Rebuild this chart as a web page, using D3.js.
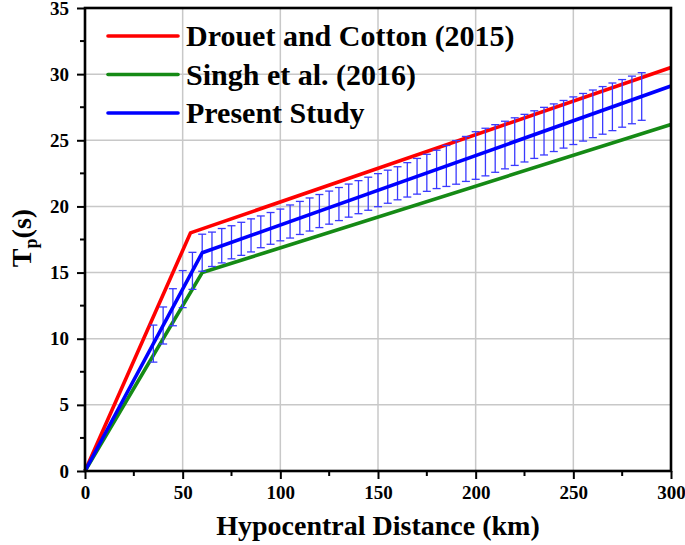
<!DOCTYPE html>
<html>
<head>
<meta charset="utf-8">
<script src="https://cdn.jsdelivr.net/npm/d3@7"></script>
<style>
  body { margin: 0; background: #fff; }
  text { font-family: "Liberation Serif", "Times New Roman", serif; font-weight: bold; }
</style>
</head>
<body>
<div id="vis"></div>
<script>
// reference curves (breakpoints)
const drouetDist = [0, 54, 300];
const drouetTp = [0, 18.0, 30.5];
const singhDist = [0, 60, 300];
const singhTp = [0, 15.0, 26.2];
const presentDist = [0, 60, 300];
const presentTp = [0, 16.5, 29.1];

// present study error bars
const errDist = [35, 40, 45, 50, 55, 60, 65, 70, 75, 80, 85, 90, 95, 100, 105, 110, 115, 120, 125, 130,
  135, 140, 145, 150, 155, 160, 165, 170, 175, 180, 185, 190, 195, 200, 205, 210, 215, 220, 225, 230,
  235, 240, 245, 250, 255, 260, 265, 270, 275, 280, 285];
const errMean = [9.63, 11.0, 12.38, 13.75, 15.13, 16.5, 16.76, 17.03, 17.29, 17.55, 17.81, 18.08, 18.34, 18.6,
  18.86, 19.13, 19.39, 19.65, 19.91, 20.18, 20.44, 20.7, 20.96, 21.23, 21.49, 21.75, 22.01, 22.28, 22.54,
  22.8, 23.06, 23.33, 23.59, 23.85, 24.11, 24.38, 24.64, 24.9, 25.16, 25.43, 25.69, 25.95, 26.21, 26.48,
  26.74, 27.0, 27.26, 27.53, 27.79, 28.05, 28.31];
const errSize = [1.4, 1.4, 1.4, 1.4, 1.4, 1.4, 1.3, 1.3, 1.25, 1.25, 1.25, 1.2, 1.2, 1.2, 1.25, 1.25, 1.25,
  1.25, 1.25, 1.25, 1.25, 1.25, 1.25, 1.25, 1.25, 1.25, 1.3, 1.35, 1.4, 1.45, 1.55, 1.65, 1.7, 1.8, 1.8,
  1.8, 1.8, 1.8, 1.8, 1.8, 1.8, 1.8, 1.8, 1.8, 1.8, 1.8, 1.8, 1.8, 1.8, 1.8, 1.8];

const xTicks = [0, 50, 100, 150, 200, 250, 300];
const yTicks = [0, 5, 10, 15, 20, 25, 30, 35];

const legendItems = [
  { label: 'Drouet and Cotton (2015)', color: '#ff0000' },
  { label: 'Singh et al. (2016)', color: '#158a15' },
  { label: 'Present Study', color: '#0000ff' }
];

const width = 685;
const height = 545;
const margin = { top: 8, right: 14, bottom: 74, left: 85 };

const svg = d3.select('#vis').append('svg')
  .attr('width', width)
  .attr('height', height);

const x = d3.scaleLinear().domain([0, 300]).range([margin.left, width - margin.right]);
const y = d3.scaleLinear().domain([0, 35]).range([height - margin.bottom, margin.top]);

// grid
svg.append('g').selectAll('line.gx')
  .data(xTicks.slice(1, -1)).enter().append('line')
  .attr('x1', d => x(d)).attr('x2', d => x(d))
  .attr('y1', y(0)).attr('y2', y(35))
  .attr('stroke', '#c8c8c8').attr('stroke-width', 1.5);
svg.append('g').selectAll('line.gy')
  .data(yTicks.slice(1, -1)).enter().append('line')
  .attr('x1', x(0)).attr('x2', x(300))
  .attr('y1', d => y(d)).attr('y2', d => y(d))
  .attr('stroke', '#c8c8c8').attr('stroke-width', 1.5);

const line = d3.line().x(d => x(d[0])).y(d => y(d[1]));

function drawCurve(dist, tp, color) {
  svg.append('path')
    .datum(d3.zip(dist, tp))
    .attr('d', line)
    .attr('fill', 'none')
    .attr('stroke', color)
    .attr('stroke-width', 3.6)
    .attr('stroke-linejoin', 'round');
}

drawCurve(drouetDist, drouetTp, legendItems[0].color);
drawCurve(singhDist, singhTp, legendItems[1].color);

// error bars
const bars = svg.append('g').attr('stroke', '#3a3aff').attr('stroke-width', 1.3);
errDist.forEach((d, i) => {
  const lo = y(errMean[i] - errSize[i]);
  const hi = y(errMean[i] + errSize[i]);
  bars.append('line').attr('x1', x(d)).attr('x2', x(d)).attr('y1', lo).attr('y2', hi);
  bars.append('line').attr('x1', x(d) - 4).attr('x2', x(d) + 4).attr('y1', lo).attr('y2', lo);
  bars.append('line').attr('x1', x(d) - 4).attr('x2', x(d) + 4).attr('y1', hi).attr('y2', hi);
});

drawCurve(presentDist, presentTp, legendItems[2].color);

// axes
const xAxis = svg.append('g')
  .attr('transform', `translate(0,${y(0)})`)
  .call(d3.axisBottom(x).tickValues(xTicks).tickSize(8).tickPadding(7).tickFormat(d3.format('d')));
xAxis.append('g').selectAll('line')
  .data(d3.range(25, 300, 50)).enter().append('line')
  .attr('x1', d => x(d)).attr('x2', d => x(d))
  .attr('y1', 0).attr('y2', 5).attr('stroke', '#000').attr('stroke-width', 2);

const yAxis = svg.append('g')
  .attr('transform', `translate(${x(0)},0)`)
  .call(d3.axisLeft(y).tickValues(yTicks).tickSize(8).tickPadding(8).tickFormat(d3.format('d')));
yAxis.append('g').selectAll('line')
  .data(d3.range(2.5, 35, 5)).enter().append('line')
  .attr('x1', 0).attr('x2', -5)
  .attr('y1', d => y(d)).attr('y2', d => y(d)).attr('stroke', '#000').attr('stroke-width', 2);

[xAxis, yAxis].forEach(g => {
  g.select('.domain').remove();
  g.selectAll('.tick line').attr('stroke', '#000').attr('stroke-width', 2);
  g.selectAll('.tick text')
    .attr('fill', '#000')
    .style('font-size', '19px')
    .style('font-family', '"Liberation Serif", serif')
    .style('font-weight', 'bold');
});

// frame
svg.append('rect')
  .attr('x', x(0)).attr('y', y(35))
  .attr('width', x(300) - x(0)).attr('height', y(0) - y(35))
  .attr('fill', 'none').attr('stroke', '#000').attr('stroke-width', 2.6);

// legend
const legend = svg.append('g');
legendItems.forEach((item, i) => {
  const ly = 36 + i * 38.5;
  legend.append('line')
    .attr('x1', 108).attr('x2', 178).attr('y1', ly).attr('y2', ly)
    .attr('stroke', item.color).attr('stroke-width', 3.6).attr('stroke-linecap', 'round');
  legend.append('text')
    .attr('x', 186).attr('y', ly + 10)
    .style('font-size', '30px')
    .text(item.label);
});

// axis titles
svg.append('text')
  .attr('x', 378).attr('y', 535)
  .attr('text-anchor', 'middle')
  .style('font-size', '28px')
  .text('Hypocentral Distance (km)');

const yTitle = svg.append('text')
  .attr('transform', 'translate(31,238) rotate(-90)')
  .attr('text-anchor', 'middle')
  .style('font-size', '28px');
yTitle.append('tspan').text('T');
yTitle.append('tspan').attr('dy', 6).style('font-size', '18px').text('p');
yTitle.append('tspan').attr('dy', -6).text('(s)');
</script>
</body>
</html>
